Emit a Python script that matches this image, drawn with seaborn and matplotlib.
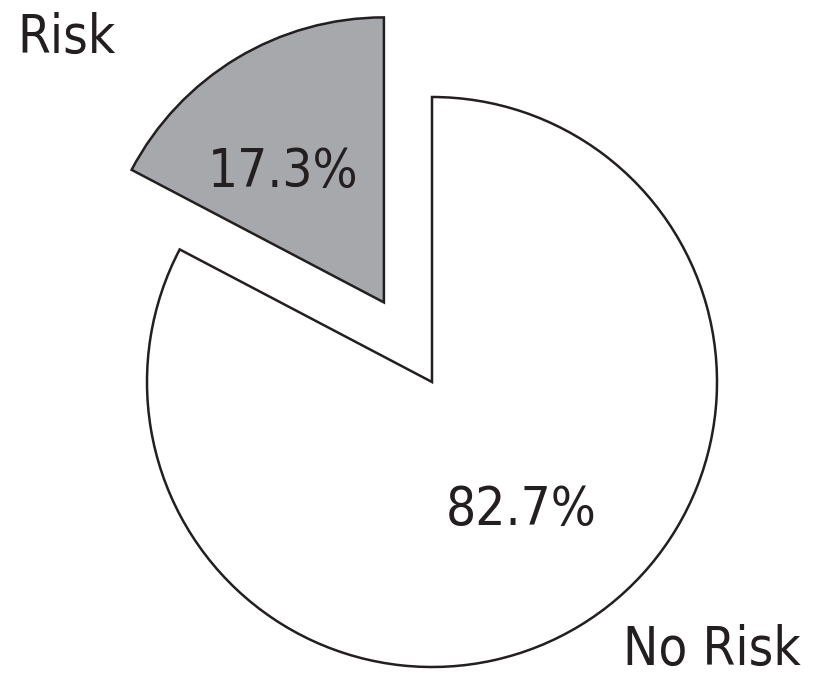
import matplotlib
matplotlib.use("Agg")
import matplotlib.pyplot as plt
import seaborn as sns
import numpy as np

sns.set_theme(style="white")
plt.rcParams['font.family'] = ['DejaVu Sans']
plt.rcParams['font.stretch'] = 'condensed'

# Share of respondents by risk group
categories = ["Risk", "No Risk"]
shares = [17.3, 82.7]
colors = ["#a7a8ab", "#ffffff"]

ink = "#231f20"
fsize = 38
W, H = 817, 676
fig = plt.figure(figsize=(W / 100, H / 100), dpi=100)
ax = fig.add_axes([0, 0, 1, 1])

center = (432, 294)
radius = 285
wedges, texts, autotexts = ax.pie(
    shares,
    colors=colors,
    startangle=90,
    counterclock=True,
    explode=[93, 0],
    center=center,
    radius=radius,
    autopct="%.1f%%",
    pctdistance=0.56,
    wedgeprops=dict(edgecolor=ink, linewidth=1.8),
    textprops=dict(color=ink, fontsize=fsize, fontstretch="condensed"),
    frame=True,
)
ax.set_xlim(0, W)
ax.set_ylim(0, H)
ax.set_aspect("equal")
ax.axis("off")

# fine-tune the percentage positions inside each slice
x0, y0 = autotexts[0].get_position()
autotexts[0].set_position((x0 - 18, y0 - 6))
x1, y1 = autotexts[1].get_position()
autotexts[1].set_position((x1 + 7, y1 + 9))

ax.text(67, H - 38, categories[0], ha="center", va="center",
        fontsize=fsize, fontstretch="condensed", color=ink)
ax.text(712, H - 650, categories[1], ha="center", va="center",
        fontsize=fsize, fontstretch="condensed", color=ink)

fig.savefig("out.png", dpi=100, facecolor="white")
